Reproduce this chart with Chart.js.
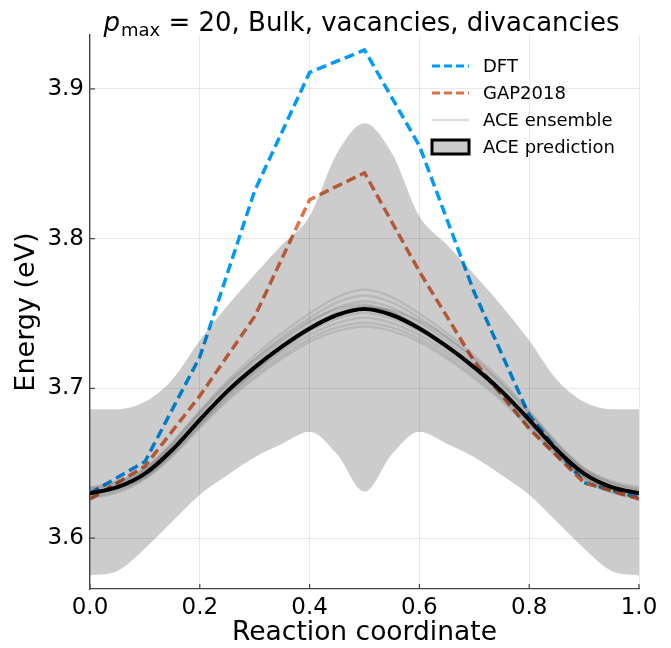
<!DOCTYPE html>
<html><head><meta charset="utf-8">
<script src="https://cdn.jsdelivr.net/npm/chart.js@4/dist/chart.umd.min.js"></script>
<style>html,body{margin:0;padding:0;background:#fff;}canvas{display:block;}</style>
</head><body>
<canvas id="c" width="671" height="648"></canvas>
<script>
// ---------------- data ----------------
const xCoarse = [0, 0.1, 0.2, 0.3, 0.4, 0.5, 0.6, 0.7, 0.8, 0.9, 1.0];
const xFine = [0, 0.05, 0.1, 0.15, 0.2, 0.25, 0.3, 0.35, 0.4, 0.45, 0.5, 0.55, 0.6, 0.65, 0.7, 0.75, 0.8, 0.85, 0.9, 0.95, 1.0];

const dftEnergy = [3.630, 3.651, 3.721, 3.832, 3.911, 3.926, 3.862, 3.764, 3.682, 3.637, 3.627];
const gapEnergy = [3.626, 3.648, 3.695, 3.748, 3.826, 3.844, 3.778, 3.718, 3.673, 3.637, 3.626];

const aceMean  = [3.630, 3.634, 3.643, 3.659, 3.679, 3.698, 3.714, 3.728, 3.740, 3.749, 3.753, 3.749, 3.740, 3.728, 3.714, 3.698, 3.679, 3.659, 3.643, 3.634, 3.630];
const aceUpper = [3.686, 3.686, 3.691, 3.706, 3.732, 3.755, 3.776, 3.796, 3.815, 3.857, 3.877, 3.857, 3.815, 3.796, 3.776, 3.755, 3.732, 3.706, 3.691, 3.686, 3.686];
const aceLower = [3.575, 3.578, 3.593, 3.611, 3.629, 3.642, 3.654, 3.663, 3.671, 3.656, 3.631, 3.656, 3.671, 3.663, 3.654, 3.642, 3.629, 3.611, 3.593, 3.578, 3.575];

const aceMember1  = [3.634, 3.638, 3.647, 3.664, 3.685, 3.705, 3.722, 3.737, 3.750, 3.761, 3.766, 3.761, 3.750, 3.737, 3.722, 3.705, 3.685, 3.664, 3.647, 3.638, 3.634];
const aceMember2  = [3.6328, 3.6368, 3.6458, 3.6625, 3.6832, 3.7029, 3.7196, 3.7343, 3.747, 3.7574, 3.7621, 3.7574, 3.747, 3.7343, 3.7196, 3.7029, 3.6832, 3.6625, 3.6458, 3.6368, 3.6328];
const aceMember3  = [3.6316, 3.6356, 3.6446, 3.661, 3.6814, 3.7008, 3.7172, 3.7316, 3.744, 3.7538, 3.7582, 3.7538, 3.744, 3.7316, 3.7172, 3.7008, 3.6814, 3.661, 3.6446, 3.6356, 3.6316];
const aceMember4  = [3.6306, 3.6346, 3.6436, 3.6598, 3.6799, 3.699, 3.7152, 3.7294, 3.7415, 3.7508, 3.755, 3.7508, 3.7415, 3.7294, 3.7152, 3.699, 3.6799, 3.6598, 3.6436, 3.6346, 3.6306];
const aceMember5  = [3.6292, 3.6332, 3.6422, 3.658, 3.6778, 3.6966, 3.7124, 3.7262, 3.738, 3.7466, 3.7504, 3.7466, 3.738, 3.7262, 3.7124, 3.6966, 3.6778, 3.658, 3.6422, 3.6332, 3.6292];
const aceMember6  = [3.6282, 3.6322, 3.6412, 3.6568, 3.6763, 3.6949, 3.7104, 3.724, 3.7355, 3.7436, 3.7472, 3.7436, 3.7355, 3.724, 3.7104, 3.6949, 3.6763, 3.6568, 3.6412, 3.6322, 3.6282];
const aceMember7  = [3.6272, 3.6312, 3.6402, 3.6555, 3.6748, 3.6931, 3.7084, 3.7217, 3.733, 3.7406, 3.7439, 3.7406, 3.733, 3.7217, 3.7084, 3.6931, 3.6748, 3.6555, 3.6402, 3.6312, 3.6272];
const aceMember8  = [3.6264, 3.6304, 3.6394, 3.6545, 3.6736, 3.6917, 3.7068, 3.7199, 3.731, 3.7382, 3.7413, 3.7382, 3.731, 3.7199, 3.7068, 3.6917, 3.6736, 3.6545, 3.6394, 3.6304, 3.6264];
const aceMember9  = [3.633, 3.637, 3.646, 3.663, 3.684, 3.703, 3.719, 3.733, 3.745, 3.753, 3.756, 3.751, 3.741, 3.728, 3.713, 3.696, 3.677, 3.657, 3.641, 3.633, 3.630];
const aceMember10 = [3.629, 3.633, 3.641, 3.657, 3.676, 3.695, 3.711, 3.726, 3.739, 3.749, 3.754, 3.752, 3.745, 3.734, 3.720, 3.703, 3.684, 3.663, 3.646, 3.637, 3.632];

const xTicks = [0, 0.2, 0.4, 0.6, 0.8, 1.0];
const yTicks = [3.6, 3.7, 3.8, 3.9];
// --------------------------------------

const FAM = '"DejaVu Sans", sans-serif';
Chart.defaults.font.family = FAM;
Chart.defaults.color = '#000';

const pts = (xs, ys) => xs.map((x, i) => ({x: x, y: ys[i]}));

const members = [aceMember1, aceMember2, aceMember3, aceMember4, aceMember5, aceMember6, aceMember7, aceMember8, aceMember9, aceMember10];

const datasets = [
  {label: 'DFT', data: pts(xCoarse, dftEnergy), borderColor: '#009AFA', backgroundColor: '#009AFA',
   borderWidth: 3.5, borderDash: [10, 5], fill: false, order: 10, legendKind: 'dash'},
  {label: 'GAP2018', data: pts(xCoarse, gapEnergy), borderColor: '#E36F47', backgroundColor: '#E36F47',
   borderWidth: 3.5, borderDash: [10, 5], fill: false, order: 9, legendKind: 'dash'},
  {label: 'band upper', data: pts(xFine, aceUpper), borderWidth: 0, borderColor: 'rgba(0,0,0,0)',
   cubicInterpolationMode: 'monotone', fill: false, order: 8},
  {label: 'band lower', data: pts(xFine, aceLower), borderWidth: 0, borderColor: 'rgba(0,0,0,0)',
   backgroundColor: 'rgba(0,0,0,0.2)', cubicInterpolationMode: 'monotone', fill: 2, order: 7}
];
members.forEach((m, i) => {
  datasets.push({label: 'ACE ensemble', data: pts(xFine, m), borderColor: 'rgba(0,0,0,0.1)',
    borderWidth: 2.5, cubicInterpolationMode: 'monotone', fill: false, order: 5,
    legendKind: i === 0 ? 'line' : null});
});
datasets.push({label: 'ACE prediction', data: pts(xFine, aceMean), borderColor: '#000', backgroundColor: '#cccccc',
  borderWidth: 4, cubicInterpolationMode: 'monotone', fill: false, order: 1, legendKind: 'box'});

const decor = {
  id: 'decor',
  afterDraw(chart) {
    const ctx = chart.ctx, ca = chart.chartArea, xs = chart.scales.x, ys = chart.scales.y;
    ctx.save();
    // inward tick marks
    ctx.strokeStyle = '#444'; ctx.lineWidth = 1.2;
    xTicks.forEach(v => { const px = xs.getPixelForValue(v); ctx.beginPath(); ctx.moveTo(px, ca.bottom); ctx.lineTo(px, ca.bottom - 5); ctx.stroke(); });
    yTicks.forEach(v => { const py = ys.getPixelForValue(v); ctx.beginPath(); ctx.moveTo(ca.left, py); ctx.lineTo(ca.left + 5, py); ctx.stroke(); });

    // title: p_max = 20, Bulk, vacancies, divacancies
    const fMain = '26px ' + FAM, fIt = 'italic 26px ' + FAM, fSub = '18px ' + FAM;
    ctx.fillStyle = '#000'; ctx.textBaseline = 'alphabetic'; ctx.textAlign = 'left';
    ctx.font = fIt; const w1 = ctx.measureText('p').width + 1;
    ctx.font = fSub; const w2 = ctx.measureText('max').width;
    const rest = ' = 20, Bulk, vacancies, divacancies';
    ctx.font = fMain; const w3 = ctx.measureText(rest).width;
    let x0 = (ca.left + ca.right) / 2 - (w1 + w2 + w3) / 2 - 3;
    const base = 31;
    ctx.font = fIt; ctx.fillText('p', x0, base);
    ctx.font = fSub; ctx.fillText('max', x0 + w1, base + 5);
    ctx.font = fMain; ctx.fillText(rest, x0 + w1 + w2, base);

    // legend
    const lx0 = 432, lx1 = 469, tx = 483;
    let ly = 66;
    ctx.font = '18px ' + FAM; ctx.textBaseline = 'middle';
    chart.data.datasets.forEach(d => {
      if (!d.legendKind) return;
      ctx.save();
      if (d.legendKind === 'box') {
        ctx.fillStyle = d.backgroundColor; ctx.fillRect(lx0, ly - 7, lx1 - lx0, 14);
        ctx.strokeStyle = d.borderColor; ctx.lineWidth = 3; ctx.strokeRect(lx0, ly - 7, lx1 - lx0, 14);
      } else {
        ctx.strokeStyle = d.legendKind === 'line' ? 'rgba(0,0,0,0.12)' : d.borderColor;
        ctx.lineWidth = d.legendKind === 'line' ? 2.5 : 3;
        ctx.setLineDash(d.legendKind === 'dash' ? [8, 4] : []);
        ctx.beginPath(); ctx.moveTo(lx0, ly); ctx.lineTo(lx1, ly); ctx.stroke();
      }
      ctx.restore();
      ctx.fillStyle = '#000';
      ctx.fillText(d.label, tx, ly + 1);
      ly += 27;
    });
    ctx.restore();
  }
};

new Chart(document.getElementById('c'), {
  type: 'line',
  data: {datasets: datasets},
  options: {
    responsive: false, animation: false, devicePixelRatio: 1,
    layout: {padding: {top: 35, right: 32, left: 0, bottom: 0}},
    plugins: {legend: {display: false}, tooltip: {enabled: false}, title: {display: false}},
    elements: {point: {radius: 0}, line: {borderCapStyle: 'butt'}},
    scales: {
      x: {
        type: 'linear', min: 0, max: 1,
        afterBuildTicks: s => { s.ticks = xTicks.map(v => ({value: v})); },
        afterFit: s => { s.height = 59; },
        ticks: {font: {size: 23}, color: '#000', padding: 5, maxRotation: 0, autoSkip: false,
                callback: v => Number(v).toFixed(1)},
        grid: {color: 'rgba(0,0,0,0.09)', lineWidth: 1, drawTicks: false},
        border: {color: '#444', width: 1.3},
        title: {display: true, text: 'Reaction coordinate', color: '#000',
                font: {size: 26.5, lineHeight: 1}, padding: {top: 0, bottom: 2}}
      },
      y: {
        type: 'linear', min: 3.566, max: 3.936,
        afterBuildTicks: s => { s.ticks = yTicks.map(v => ({value: v})); },
        afterFit: s => { s.width = 90; },
        ticks: {font: {size: 23}, color: '#000', padding: 6, autoSkip: false,
                callback: v => Number(v).toFixed(1)},
        grid: {color: 'rgba(0,0,0,0.09)', lineWidth: 1, drawTicks: false},
        border: {color: '#444', width: 1.3},
        title: {display: true, text: 'Energy (eV)', color: '#000',
                font: {size: 27, lineHeight: 1}, padding: {top: 13, bottom: 0}}
      }
    }
  },
  plugins: [decor]
});
</script>
</body></html>
